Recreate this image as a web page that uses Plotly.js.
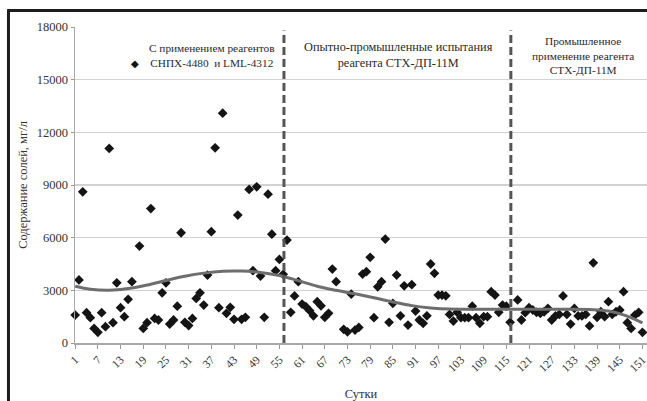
<!DOCTYPE html>
<html>
<head>
<meta charset="utf-8">
<script src="https://cdn.plot.ly/plotly-3.0.1.min.js"></script>
<style>html,body{margin:0;padding:0;background:#fff;}#chart{width:647px;height:401px;}</style>
</head>
<body>
<div id="chart"></div>
<script>
// Days (сутки) and salt content (мг/л)
const days = [1,2,3,4,5,6,7,8,9,10,11,12,13,14,15,16,18,19,20,21,22,23,24,25,26,27,28,29,30,31,32,33,34,35,36,37,38,39,40,41,42,43,44,45,46,47,48,49,50,51,52,53,54,55,56,57,58,59,60,61,62,63,64,65,66,67,68,69,70,72,73,74,75,76,77,78,79,80,81,82,83,84,85,86,87,88,89,90,91,92,93,94,95,96,97,98,99,100,101,102,103,104,105,106,107,108,109,110,111,112,113,114,115,116,118,119,120,121,122,123,124,125,126,127,128,129,130,131,132,133,134,135,136,137,138,139,140,141,142,143,144,145,146,147,148,149,150,151];
const salts = [1590,3590,8610,1730,1440,830,610,1730,930,11080,1160,3430,2010,1500,2490,3490,5520,830,1160,7660,1400,1310,2860,3430,1080,1310,2100,6280,1180,990,1400,2540,2860,2160,3870,6340,11120,2010,13090,1690,2030,1350,7290,1350,1460,8750,4120,8900,3810,1460,8480,6200,4120,4760,3910,5860,1750,2680,3490,2220,2070,1840,1550,2350,2120,1460,1690,4210,3490,780,640,2790,740,890,3930,4060,4880,1440,3200,3490,5920,1180,2260,3870,1550,3260,1020,3320,1820,1310,1120,1550,4500,3970,2730,2730,2690,1630,1250,1750,1440,1440,1440,2100,1440,1120,1500,1500,2920,2730,1750,2160,2100,1180,2450,1310,1730,2010,1880,1750,1690,1780,1970,1310,1540,1630,2680,1630,1080,1970,1540,1540,1630,970,4570,1460,1780,1500,2350,1630,1780,1880,2920,1160,830,1590,1750,610];

// Trend line
const trendDays = [1,5,10,15,20,25,30,35,40,45,50,55,60,65,70,75,80,85,90,95,100,110,120,130,138,142,146,149,151];
const trendVals = [3230,3060,3000,3100,3300,3560,3800,3980,4090,4100,4020,3850,3550,3230,3000,2800,2580,2340,2130,2000,1930,1920,1920,1920,1900,1820,1600,1350,1150];

// Period boundaries (days)
const periodBounds = [56.2, 116.2];

// Period labels
const periodLabels = [
  "С применением реагентов<br>СНПХ-4480  и LML-4312",
  "Опытно-промышленные испытания<br>реагента СТХ-ДП-11М",
  "Промышленное<br>применение реагента<br>СТХ-ДП-11М"
];

const serif = "Liberation Serif";

const traces = [
  {x: days, y: salts, type: "scatter", mode: "markers", cliponaxis: false,
   marker: {symbol: "diamond", size: 7.5, color: "#141414"}, hoverinfo: "x+y"},
  {x: trendDays, y: trendVals, type: "scatter", mode: "lines",
   line: {shape: "spline", smoothing: 1, color: "#6e6e6e", width: 3}}
];

const shapes = periodBounds.map(b => ({
  type: "line", xref: "x", yref: "y", x0: b, x1: b, y0: 0, y1: 17800,
  line: {color: "#555", width: 3, dash: "8px,4px"}
}));
// outer chart frame (left and top edges visible)
shapes.push({type: "line", xref: "paper", yref: "paper", x0: -0.1163, x1: -0.1163, y0: -0.2, y1: 1.0522,
  line: {color: "#1c1c1c", width: 3}});
shapes.push({type: "line", xref: "paper", yref: "paper", x0: -0.1187, x1: 1.01, y0: 1.0522, y1: 1.0522,
  line: {color: "#1c1c1c", width: 3}});

const annotations = [
  {text: periodLabels[0], x: 0.2395, y: 0.911, xref: "paper", yref: "paper", xanchor: "center", yanchor: "middle",
   showarrow: false, align: "center", font: {family: serif, size: 11.3, color: "#2a2a2a"}},
  {text: periodLabels[1], x: 0.565, y: 0.911, xref: "paper", yref: "paper", xanchor: "center", yanchor: "middle",
   showarrow: false, align: "center", font: {family: serif, size: 12.3, color: "#2a2a2a"}},
  {text: periodLabels[2], x: 0.888, y: 0.91, xref: "paper", yref: "paper", xanchor: "center", yanchor: "middle",
   showarrow: false, align: "center", font: {family: serif, size: 11.3, color: "#2a2a2a"}},
  {text: "◆", x: 0.1049, y: 0.886, xref: "paper", yref: "paper", xanchor: "center", yanchor: "middle",
   showarrow: false, font: {family: "DejaVu Sans", size: 10, color: "#141414"}}
];

const layout = {
  width: 647, height: 401,
  margin: {l: 75, r: 0, t: 27, b: 58},
  paper_bgcolor: "#fff", plot_bgcolor: "#fff",
  showlegend: false,
  font: {family: serif, color: "#333"},
  xaxis: {
    range: [0.95, 152.2], tick0: 1, dtick: 6, tickangle: -45, automargin: false,
    ticklabeloverflow: "allow",
    ticks: "outside", ticklen: 4, tickcolor: "#999",
    showgrid: false, zeroline: false,
    showline: true, linecolor: "#a8a8a8", linewidth: 1.5,
    tickfont: {family: serif, size: 11.5, color: "#333"},
    title: {text: "Сутки", font: {family: serif, size: 12.5, color: "#333"}, standoff: 16}
  },
  yaxis: {
    range: [0, 18000], dtick: 3000, tick0: 0, tickformat: "d", automargin: false,
    ticks: "outside", ticklen: 3, tickcolor: "#999",
    showgrid: true, gridcolor: "#d2d2d2", gridwidth: 1.2,
    zeroline: false, showline: true, linecolor: "#a8a8a8", linewidth: 1.5,
    tickfont: {family: serif, size: 12.5, color: "#333"},
    title: {text: "Содержание солей, мг/л", font: {family: serif, size: 12.5, color: "#333"}, standoff: 6}
  },
  shapes: shapes,
  annotations: annotations
};

Plotly.newPlot("chart", traces, layout, {displayModeBar: false, staticPlot: true});
</script>
</body>
</html>
